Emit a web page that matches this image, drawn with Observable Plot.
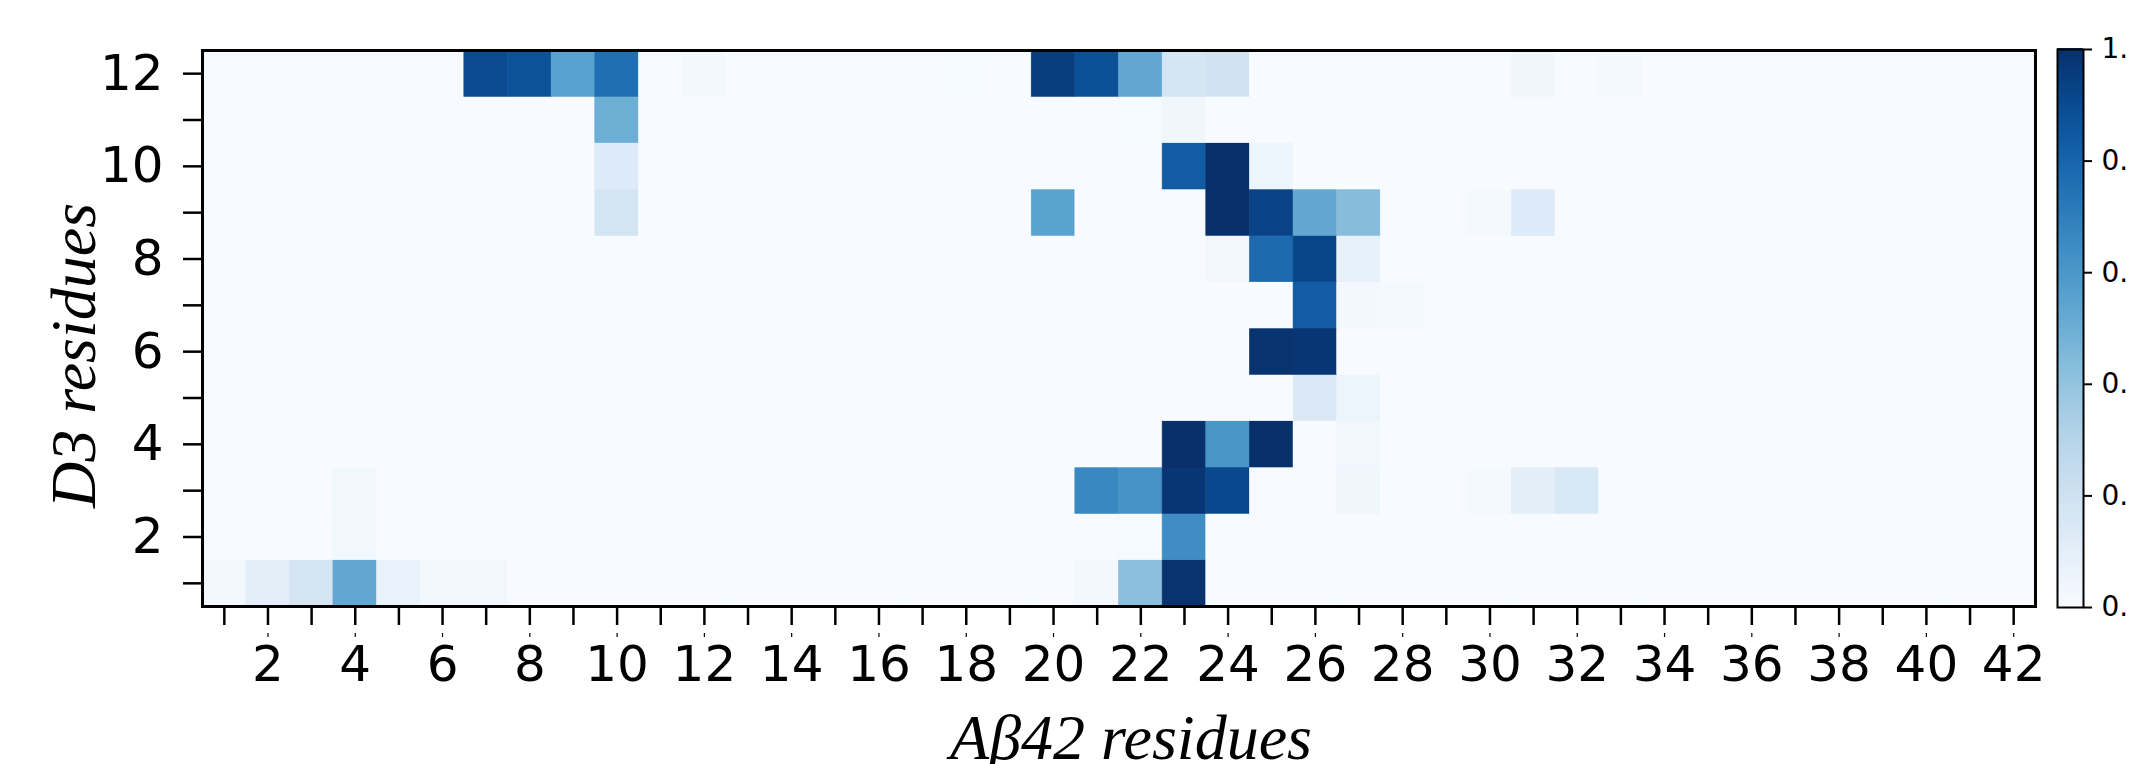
<!DOCTYPE html>
<html>
<head>
<meta charset="utf-8">
<script src="https://cdn.jsdelivr.net/npm/d3@7"></script>
<script src="https://cdn.jsdelivr.net/npm/@observablehq/plot@0.6"></script>
<style>
  html, body { margin: 0; padding: 0; background: white; overflow: hidden; }
  #wrap { position: relative; width: 2129px; height: 764px; overflow: hidden; }
  #wrap svg { position: absolute; top: 0; }
</style>
</head>
<body>
<div id="wrap"></div>
<script>
// Aβ42 residues (columns) and D3 residues (rows)
const abResidues = d3.range(1, 43);
const d3Residues = d3.range(1, 13);
const xTickLabels = [2, 4, 6, 8, 10, 12, 14, 16, 18, 20, 22, 24, 26, 28, 30, 32, 34, 36, 38, 40, 42];
const yTickLabels = [2, 4, 6, 8, 10, 12];
const colorbarTicks = [0, 0.2, 0.4, 0.6, 0.8, 1.0];

// contact probability per D3 residue, Aβ42 residues 1..42
const d3res1  = [0.02,0.10,0.17,0.53,0.07,0.03,0.03,0,0,0,  0,0,0,0,0,0,0,0,0,0,  0.02,0.42,0.99,0,0,0,0,0,0,0,  0,0,0,0,0,0,0,0,0,0,  0,0];
const d3res2  = [0,0,0,0.035,0,0,0,0,0,0,  0,0,0,0,0,0,0,0,0,0,  0,0.01,0.64,0,0,0,0,0,0,0,  0,0,0,0,0,0,0,0,0,0,  0,0];
const d3res3  = [0,0,0,0.035,0,0,0,0,0,0,  0,0,0,0,0,0,0,0,0,0,  0.66,0.62,0.98,0.91,0,0,0.04,0,0,0.015,  0.10,0.15,0,0,0,0,0,0,0,0,  0,0];
const d3res4  = [0,0,0,0,0,0,0,0,0,0,  0,0,0,0,0,0,0,0,0,0,  0,0,1.0,0.61,1.0,0,0.03,0,0,0,  0,0,0,0,0,0,0,0,0,0,  0,0];
const d3res5  = [0,0,0,0,0,0,0,0,0,0,  0,0,0,0,0,0,0,0,0,0,  0,0,0,0,0,0.14,0.05,0,0,0,  0,0,0,0,0,0,0,0,0,0,  0,0];
const d3res6  = [0,0,0,0,0,0,0,0,0,0,  0,0,0,0,0,0,0,0,0,0,  0,0,0,0,0.99,0.98,0,0,0,0,  0,0,0,0,0,0,0,0,0,0,  0,0];
const d3res7  = [0,0,0,0,0,0,0,0,0,0,  0,0,0,0,0,0,0,0,0,0,  0,0,0,0,0,0.83,0.02,0.015,0,0,  0,0,0,0,0,0,0,0,0,0,  0,0];
const d3res8  = [0,0,0,0,0,0,0,0,0,0,  0,0,0,0,0,0,0,0,0,0,  0,0,0,0.03,0.78,0.92,0.08,0,0,0,  0,0,0,0,0,0,0,0,0,0,  0,0];
const d3res9  = [0,0,0,0,0,0,0,0,0,0.18,  0,0,0,0,0,0,0,0,0,0.55,  0,0,0,1.0,0.93,0.53,0.43,0,0,0.015,  0.13,0,0,0,0,0,0,0,0,0,  0,0];
const d3res10 = [0,0,0,0,0,0,0,0,0,0.13,  0,0,0,0,0,0,0,0,0,0,  0,0,0.83,1.0,0.05,0,0,0,0,0,  0,0,0,0,0,0,0,0,0,0,  0,0];
const d3res11 = [0,0,0,0,0,0,0,0,0,0.50,  0,0,0,0,0,0,0,0,0,0,  0,0.01,0.04,0,0,0,0,0,0,0,  0,0,0,0,0,0,0,0,0,0,  0,0];
const d3res12 = [0,0,0,0,0,0,0.90,0.87,0.56,0.76,  0,0.02,0,0,0,0,0,0.01,0,0.95,  0.88,0.53,0.17,0.19,0,0,0,0,0,0,  0.04,0,0.015,0,0,0,0,0,0,0,  0,0];

const rows = [d3res1, d3res2, d3res3, d3res4, d3res5, d3res6, d3res7, d3res8, d3res9, d3res10, d3res11, d3res12];
const cells = [];
d3Residues.forEach((r, i) => abResidues.forEach((c, j) => cells.push({ab: c, d3: r, v: rows[i][j]})));

const xLabel = "Aβ42 residues";
const yLabel = "D3 residues";

const main = Plot.plot({
  width: 2129,
  height: 764,
  marginLeft: 202,
  marginRight: 94,
  marginTop: 50,
  marginBottom: 158,
  style: {fontFamily: "DejaVu Sans", fontSize: "50px", color: "black", background: "white", overflow: "visible"},
  x: {type: "band", domain: abResidues, padding: 0, round: false, label: null, axis: null},
  y: {type: "band", domain: d3Residues, padding: 0, round: false, reverse: true, label: null, axis: null},
  color: {type: "linear", scheme: "blues", domain: [0, 1]},
  marks: [
    Plot.cell(cells, {x: "ab", y: "d3", fill: "v", inset: 0, stroke: "v", strokeWidth: 0.6}),
    Plot.frame({stroke: "black", strokeWidth: 3}),
    Plot.axisX({ticks: abResidues, tickSize: 19, strokeWidth: 2.5, tickFormat: () => "", label: null}),
    Plot.axisX({ticks: xTickLabels, tickSize: 4, strokeWidth: 1.2, dy: 27, tickPadding: 8, fontSize: 50, label: null}),
    Plot.axisY({ticks: d3Residues, tickSize: 19, strokeWidth: 2.5, tickFormat: () => "", label: null}),
    Plot.axisY({ticks: yTickLabels, tickSize: 0, tickPadding: 39, fontSize: 50, label: null}),
    Plot.text([xLabel], {text: d => d, frameAnchor: "bottom", textAnchor: "middle", lineAnchor: "top", dx: 12, dy: 107,
      fontFamily: "Liberation Serif", fontStyle: "italic", fontSize: 64, fill: "black"}),
    Plot.text([yLabel], {text: d => d, frameAnchor: "left", textAnchor: "middle", lineAnchor: "top", rotate: -90, dx: -153, dy: 27,
      fontFamily: "Liberation Serif", fontStyle: "italic", fontSize: 64, fill: "black"})
  ]
});
main.style.left = "0px";

// colorbar
const cbSteps = d3.range(0, 200).map(i => i / 200);
const colorbar = Plot.plot({
  width: 89,
  height: 764,
  marginLeft: 17,
  marginRight: 46,
  marginTop: 49,
  marginBottom: 157,
  style: {fontFamily: "DejaVu Sans", fontSize: "28px", color: "black", background: "transparent"},
  x: {domain: [0, 1], axis: null},
  y: {domain: [0, 1], axis: null},
  color: {type: "linear", scheme: "blues", domain: [0, 1]},
  marks: [
    Plot.rect(cbSteps, {x1: 0, x2: 1, y1: d => d, y2: d => d + 1 / 200 + 0.001, fill: d => d + 0.0025, shapeRendering: "crispEdges"}),
    Plot.frame({stroke: "black", strokeWidth: 2}),
    Plot.axisY({anchor: "right", ticks: colorbarTicks, tickFormat: d3.format(".1f"), tickSize: 8, tickPadding: 10, strokeWidth: 2, fontSize: 28, label: null})
  ]
});
colorbar.style.left = "2040px";

const wrap = document.getElementById("wrap");
wrap.appendChild(main);
wrap.appendChild(colorbar);
</script>
</body>
</html>
